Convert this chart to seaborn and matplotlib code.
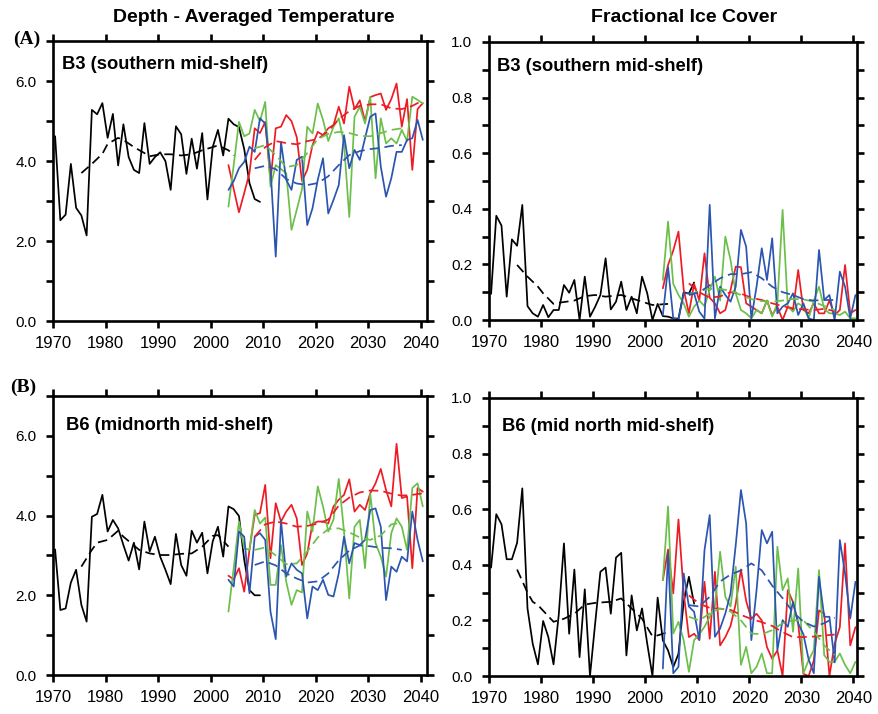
import numpy as np
import pandas as pd
import matplotlib
matplotlib.use("Agg")
import matplotlib.pyplot as plt
import seaborn as sns
from matplotlib.ticker import MultipleLocator, FormatStrFormatter

sns.set_style("ticks", {"axes.edgecolor": "black", "text.color": "black",
                        "xtick.color": "black", "ytick.color": "black",
                        "axes.labelcolor": "black"})
plt.rcParams['font.family'] = ['Liberation Sans', 'DejaVu Sans']

# ---------------- data ----------------
obs_years = list(range(1970, 2010))
model_years = list(range(2003, 2041))
smooth_years_model = list(range(2008, 2037, 2))
smooth_years_red = list(range(2008, 2041, 2))

# Panel A: B3 depth-averaged temperature
a_temp_obs = [4.62, 2.52, 2.66, 3.93, 2.83, 2.64, 2.14, 5.28, 5.17, 5.45,
              4.58, 5.18, 3.89, 4.92, 4.10, 3.78, 3.70, 4.95, 3.93, 4.10,
              4.22, 4.00, 3.28, 4.87, 4.67, 3.68, 4.56, 3.81, 4.70, 3.04,
              4.35, 4.78, 4.14, 5.06, 4.92, 4.85, 4.30, 3.45, 3.05, 2.98]
a_temp_obs_smooth_years = [1975, 1977, 1979, 1980, 1982, 1983, 1985, 1987, 1988,
                           1990, 1992, 1994, 1996, 1998, 2000, 2001, 2003, 2004]
a_temp_obs_smooth = [3.70, 3.93, 4.18, 4.43, 4.58, 4.53, 4.35, 4.20, 4.12,
                     4.17, 4.17, 4.14, 4.17, 4.27, 4.35, 4.39, 4.27, 4.14]
a_temp_red = [3.90, 3.30, 2.72, 3.20, 3.70, 4.82, 4.70, 4.98, 3.50, 4.82,
              4.86, 5.15, 5.00, 4.60, 3.50, 3.78, 4.40, 4.73, 4.65, 4.82,
              4.90, 5.36, 4.94, 5.86, 5.30, 5.52, 5.00, 5.60, 5.65, 5.69,
              5.28, 5.55, 5.94, 4.86, 5.55, 3.78, 5.30, 5.45]
a_temp_green = [2.86, 3.90, 4.98, 4.62, 4.69, 5.28, 5.00, 5.48, 3.36, 3.90,
                3.80, 3.70, 2.28, 2.78, 3.30, 4.86, 4.69, 5.44, 5.03, 4.50,
                4.86, 5.07, 4.44, 2.60, 5.11, 5.36, 4.94, 5.61, 3.57, 5.07,
                4.44, 4.57, 4.44, 4.78, 4.50, 5.61, 5.53, 5.44]
a_temp_blue = [3.28, 3.50, 3.82, 3.98, 4.36, 4.23, 5.07, 4.94, 3.82, 1.61,
               4.48, 3.53, 3.28, 4.03, 4.11, 2.40, 2.82, 3.53, 4.07, 2.69,
               3.03, 3.40, 4.65, 3.82, 4.28, 4.03, 4.57, 5.11, 5.19, 3.86,
               3.11, 3.57, 4.23, 4.23, 4.53, 4.57, 5.03, 4.53]
a_temp_red_smooth = [4.03, 4.35, 4.50, 4.45, 4.42, 4.50, 4.55, 4.75, 5.05,
                     5.25, 5.38, 5.42, 5.42, 5.32, 5.30, 5.38, 5.52]
a_temp_green_smooth = [4.32, 4.40, 4.15, 3.85, 3.90, 4.20, 4.55, 4.68, 4.73,
                       4.70, 4.63, 4.62, 4.70, 4.78, 4.82]
a_temp_blue_smooth = [3.82, 3.88, 3.80, 3.55, 3.44, 3.40, 3.45, 3.62, 3.90,
                      4.15, 4.25, 4.30, 4.33, 4.38, 4.40]

# Panel A: B3 fractional ice cover
a_ice_obs = [0.094, 0.375, 0.340, 0.084, 0.290, 0.267, 0.414, 0.050, 0.024, 0.012,
             0.054, 0.010, 0.036, 0.036, 0.126, 0.098, 0.144, 0.000, 0.156, 0.012,
             0.048, 0.090, 0.222, 0.038, 0.066, 0.138, 0.036, 0.084, 0.024, 0.156,
             0.096, 0.000, 0.058, 0.014, 0.012, 0.006, 0.005, 0.100, 0.095, 0.135]
a_ice_obs_smooth_years = [1975, 1977, 1979, 1980, 1982, 1983, 1986, 1988,
                          1990, 1992, 1995, 1997, 1999, 2001, 2004]
a_ice_obs_smooth = [0.198, 0.156, 0.120, 0.096, 0.058, 0.062, 0.070, 0.086,
                    0.090, 0.084, 0.090, 0.078, 0.066, 0.054, 0.058]
a_ice_red = [0.114, 0.198, 0.250, 0.318, 0.110, 0.024, 0.130, 0.070, 0.240, 0.080,
             0.060, 0.024, 0.036, 0.108, 0.192, 0.190, 0.060, 0.048, 0.036, 0.024,
             0.070, 0.018, 0.048, 0.000, 0.048, 0.036, 0.180, 0.036, 0.024, 0.060,
             0.024, 0.024, 0.070, 0.018, 0.036, 0.198, 0.024, 0.036]
a_ice_green = [0.144, 0.354, 0.130, 0.090, 0.060, 0.012, 0.048, 0.070, 0.050, 0.108,
               0.156, 0.070, 0.300, 0.216, 0.096, 0.036, 0.024, 0.006, 0.036, 0.024,
               0.070, 0.012, 0.060, 0.396, 0.048, 0.030, 0.060, 0.048, 0.006, 0.070,
               0.120, 0.040, 0.024, 0.024, 0.018, 0.030, 0.006, 0.006]
a_ice_blue = [0.018, 0.190, 0.006, 0.002, 0.096, 0.096, 0.096, 0.030, 0.005, 0.414,
              0.006, 0.120, 0.090, 0.066, 0.120, 0.324, 0.264, 0.006, 0.120, 0.258,
              0.144, 0.294, 0.024, 0.048, 0.060, 0.096, 0.018, 0.060, 0.006, 0.000,
              0.252, 0.072, 0.090, 0.000, 0.174, 0.120, 0.006, 0.090]
a_ice_red_smooth = [0.132, 0.100, 0.080, 0.085, 0.100, 0.095, 0.080, 0.072,
                    0.060, 0.050, 0.042, 0.038, 0.036, 0.040, 0.032]
a_ice_green_smooth = [0.090, 0.105, 0.112, 0.112, 0.105, 0.090, 0.075, 0.068,
                      0.066, 0.070, 0.076, 0.074, 0.066, 0.050, 0.036]
a_ice_blue_smooth = [0.090, 0.100, 0.125, 0.150, 0.165, 0.165, 0.172, 0.150,
                     0.120, 0.100, 0.090, 0.075, 0.070, 0.072, 0.072]

# Panel B: B6 depth-averaged temperature
b_temp_obs = [3.15, 1.63, 1.67, 2.32, 2.64, 1.76, 1.34, 3.97, 4.04, 4.52,
              3.60, 3.89, 3.68, 3.26, 2.87, 3.32, 2.65, 3.85, 3.10, 3.47,
              2.97, 2.64, 2.28, 3.54, 2.76, 2.49, 3.62, 3.32, 3.57, 2.55,
              3.35, 3.72, 2.97, 4.23, 4.16, 3.99, 2.89, 2.13, 2.00, 2.00]
b_temp_obs_smooth_years = [1975, 1977, 1978, 1980, 1982, 1983, 1986, 1988,
                           1990, 1992, 1994, 1996, 1998, 2000, 2001, 2003]
b_temp_obs_smooth = [2.72, 3.14, 3.32, 3.39, 3.62, 3.47, 3.14, 3.05,
                     3.01, 3.01, 3.04, 3.05, 3.22, 3.49, 3.51, 3.22]
b_temp_red = [2.49, 2.40, 2.68, 2.09, 3.14, 4.02, 4.06, 4.77, 2.93, 4.31,
              3.85, 4.10, 4.27, 3.93, 2.76, 3.05, 3.80, 3.85, 3.85, 3.80,
              4.23, 4.40, 4.52, 4.91, 4.10, 4.27, 4.14, 4.56, 4.81, 5.17,
              4.64, 4.23, 5.80, 4.44, 4.48, 2.68, 4.69, 4.60]
b_temp_green = [1.59, 2.68, 3.85, 3.18, 3.14, 4.14, 3.80, 3.95, 2.26, 2.26,
                3.26, 2.34, 1.76, 2.13, 2.07, 4.10, 3.60, 4.73, 4.23, 3.60,
                3.90, 4.92, 3.60, 1.92, 3.72, 3.89, 2.68, 4.55, 3.31, 2.97,
                2.47, 3.56, 3.93, 3.72, 3.14, 4.69, 4.81, 4.23]
b_temp_blue = [2.39, 2.22, 3.60, 3.47, 2.05, 3.47, 3.56, 3.39, 1.59, 0.90,
               3.89, 2.47, 2.80, 2.64, 2.55, 1.42, 2.22, 2.13, 2.39, 2.01,
               1.97, 2.55, 3.47, 2.80, 3.31, 3.26, 3.39, 4.14, 4.18, 3.72,
               1.88, 2.72, 2.59, 2.97, 2.85, 4.10, 3.39, 2.85]
b_temp_red_smooth = [3.47, 3.78, 3.85, 3.80, 3.72, 3.74, 3.80, 3.90, 4.25,
                     4.45, 4.58, 4.63, 4.62, 4.55, 4.50, 4.52, 4.56]
b_temp_green_smooth = [3.14, 3.20, 3.00, 2.78, 2.80, 3.10, 3.45, 3.66, 3.68,
                       3.58, 3.45, 3.39, 3.50, 3.78, 3.82]
b_temp_blue_smooth = [2.76, 2.85, 2.75, 2.55, 2.42, 2.32, 2.35, 2.55, 2.88,
                      3.12, 3.25, 3.23, 3.19, 3.18, 3.14]

# Panel B: B6 fractional ice cover
b_ice_obs = [0.390, 0.582, 0.546, 0.420, 0.420, 0.479, 0.675, 0.243, 0.116, 0.042,
             0.198, 0.140, 0.042, 0.220, 0.477, 0.152, 0.383, 0.068, 0.312, 0.000,
             0.190, 0.375, 0.390, 0.224, 0.426, 0.443, 0.074, 0.290, 0.164, 0.243,
             0.116, 0.000, 0.282, 0.128, 0.092, 0.032, 0.080, 0.266, 0.357, 0.260]
b_ice_obs_smooth_years = [1975, 1977, 1978, 1979, 1982, 1984, 1986, 1988,
                          1990, 1993, 1995, 1997, 1999, 2001, 2002, 2004]
b_ice_obs_smooth = [0.383, 0.300, 0.267, 0.255, 0.195, 0.206, 0.224, 0.257,
                    0.263, 0.267, 0.279, 0.243, 0.206, 0.143, 0.146, 0.158]
b_ice_red = [0.345, 0.455, 0.297, 0.563, 0.300, 0.140, 0.152, 0.130, 0.339, 0.134,
             0.375, 0.110, 0.140, 0.180, 0.260, 0.383, 0.270, 0.206, 0.224, 0.200,
             0.104, 0.062, 0.092, 0.000, 0.309, 0.266, 0.188, 0.008, 0.000, 0.056,
             0.236, 0.224, 0.000, 0.116, 0.176, 0.477, 0.110, 0.176]
b_ice_green = [0.345, 0.610, 0.153, 0.195, 0.129, 0.015, 0.129, 0.150, 0.177, 0.213,
               0.250, 0.447, 0.285, 0.250, 0.393, 0.040, 0.105, 0.010, 0.033, 0.081,
               0.010, 0.010, 0.465, 0.309, 0.351, 0.159, 0.387, 0.010, 0.057, 0.093,
               0.381, 0.075, 0.051, 0.051, 0.081, 0.040, 0.010, 0.051]
b_ice_blue = [0.027, 0.441, 0.010, 0.033, 0.369, 0.250, 0.231, 0.129, 0.453, 0.579,
              0.141, 0.171, 0.225, 0.297, 0.471, 0.669, 0.549, 0.129, 0.309, 0.525,
              0.477, 0.519, 0.093, 0.201, 0.177, 0.267, 0.189, 0.150, 0.060, 0.010,
              0.357, 0.213, 0.213, 0.049, 0.489, 0.369, 0.207, 0.339]
b_ice_red_smooth = [0.290, 0.260, 0.245, 0.242, 0.238, 0.220, 0.205, 0.194,
                    0.180, 0.158, 0.140, 0.140, 0.142, 0.146, 0.149]
b_ice_green_smooth = [0.213, 0.200, 0.225, 0.243, 0.232, 0.200, 0.153, 0.150,
                      0.165, 0.190, 0.200, 0.200, 0.160, 0.110, 0.075]
b_ice_blue_smooth = [0.255, 0.250, 0.285, 0.340, 0.365, 0.380, 0.405, 0.380,
                     0.325, 0.280, 0.230, 0.195, 0.178, 0.190, 0.210]

column_titles = ["Depth - Averaged Temperature", "Fractional Ice Cover"]
panel_labels = ["B3 (southern mid-shelf)", "B3 (southern mid-shelf)",
                "B6 (midnorth mid-shelf)", "B6 (mid north mid-shelf)"]
row_tags = ["(A)", "(B)"]

# ---------------- style ----------------
RED = '#ed1c24'
GREEN = '#6cbf4a'
BLUE = '#2b55b0'
BLACK = '#000000'
MID = 0.4  # plotted at mid-year
LW = 1.25
DASH = (0, (5.5, 3.0))

fig = plt.figure(figsize=(8.79, 7.14), dpi=100)
positions = [
    [0.0603, 0.5504, 0.4255, 0.3920],
    [0.5563, 0.5518, 0.4187, 0.3894],
    [0.0603, 0.0546, 0.4255, 0.3908],
    [0.5563, 0.0532, 0.4187, 0.3894],
]
label_xy = [(0.024, 0.915), (0.022, 0.913), (0.035, 0.896), (0.035, 0.896)]

panels = [
    dict(obs=a_temp_obs, sy=a_temp_obs_smooth_years, s=a_temp_obs_smooth,
         r=a_temp_red, g=a_temp_green, b=a_temp_blue,
         rs=a_temp_red_smooth, gs=a_temp_green_smooth, bs=a_temp_blue_smooth, kind='temp'),
    dict(obs=a_ice_obs, sy=a_ice_obs_smooth_years, s=a_ice_obs_smooth,
         r=a_ice_red, g=a_ice_green, b=a_ice_blue,
         rs=a_ice_red_smooth, gs=a_ice_green_smooth, bs=a_ice_blue_smooth, kind='ice'),
    dict(obs=b_temp_obs, sy=b_temp_obs_smooth_years, s=b_temp_obs_smooth,
         r=b_temp_red, g=b_temp_green, b=b_temp_blue,
         rs=b_temp_red_smooth, gs=b_temp_green_smooth, bs=b_temp_blue_smooth, kind='temp'),
    dict(obs=b_ice_obs, sy=b_ice_obs_smooth_years, s=b_ice_obs_smooth,
         r=b_ice_red, g=b_ice_green, b=b_ice_blue,
         rs=b_ice_red_smooth, gs=b_ice_green_smooth, bs=b_ice_blue_smooth, kind='ice'),
]


def draw(ax, years, vals, color, dashed=False, lw=LW):
    df = pd.DataFrame({"year": np.array(years, dtype=float) + MID, "value": vals})
    kw = dict(linestyle=DASH) if dashed else {}
    sns.lineplot(data=df, x="year", y="value", color=color, linewidth=lw,
                 ax=ax, errorbar=None, sort=False, **kw)


for i, (pos, p) in enumerate(zip(positions, panels)):
    ax = fig.add_axes(pos)
    draw(ax, obs_years, p['obs'], BLACK)
    draw(ax, p['sy'], p['s'], BLACK, dashed=True)
    draw(ax, model_years, p['r'], RED)
    draw(ax, model_years, p['g'], GREEN)
    draw(ax, model_years, p['b'], BLUE)
    ry = smooth_years_red if p['kind'] == 'temp' else smooth_years_model
    draw(ax, ry, p['rs'], RED, dashed=True)
    draw(ax, smooth_years_model, p['gs'], GREEN, dashed=True)
    draw(ax, smooth_years_model, p['bs'], BLUE, dashed=True)

    ax.set_xlim(1970, 2041.2 if p['kind'] == 'temp' else 2040.7)
    ax.xaxis.set_major_locator(MultipleLocator(10))
    if p['kind'] == 'temp':
        ax.set_ylim(0, 7)
        ax.set_yticks([0, 2, 4, 6])
        ax.yaxis.set_minor_locator(MultipleLocator(1))
    else:
        ax.set_ylim(0, 1.0)
        ax.yaxis.set_major_locator(MultipleLocator(0.2))
        ax.yaxis.set_minor_locator(MultipleLocator(0.1))
    ax.yaxis.set_major_formatter(FormatStrFormatter('%.1f'))
    ax.set_xlabel("")
    ax.set_ylabel("")
    for sp in ax.spines.values():
        sp.set_visible(True)
        sp.set_linewidth(1.9)
        sp.set_color('black')
    ax.tick_params(axis='both', which='both', direction='out', top=True, right=True,
                   width=1.9, length=5, color='black', labelcolor='black')
    ax.tick_params(axis='x', labelsize=12, pad=6)
    ax.tick_params(axis='y', labelsize=11, pad=7)
    ax.text(label_xy[i][0], label_xy[i][1], panel_labels[i], transform=ax.transAxes,
            fontsize=13.2, fontweight='bold', ha='left', va='center', color='black')

fig.text(254 / 879, 1 - 17 / 714, column_titles[0], fontsize=14, fontweight='bold',
         ha='center', va='center')
fig.text(684 / 879, 1 - 17 / 714, column_titles[1], fontsize=14, fontweight='bold',
         ha='center', va='center')
fig.text(13 / 879, 1 - 39 / 714, row_tags[0], fontsize=14, fontweight='bold',
         family=['Liberation Serif', 'DejaVu Serif'], ha='left', va='center')
fig.text(10 / 879, 1 - 387 / 714, row_tags[1], fontsize=14, fontweight='bold',
         family=['Liberation Serif', 'DejaVu Serif'], ha='left', va='center')

fig.savefig("out.png", dpi=100)
